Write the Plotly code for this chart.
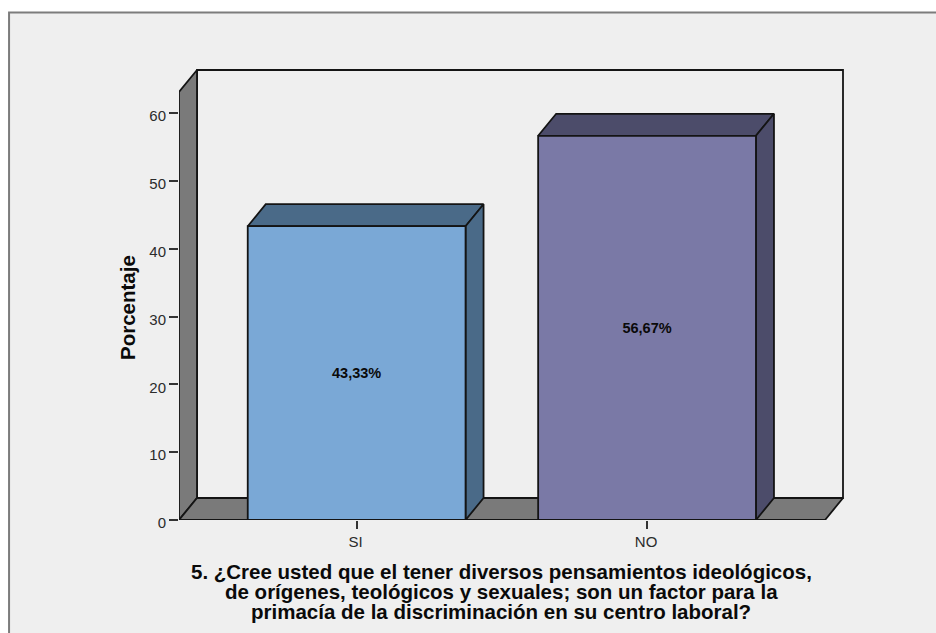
import plotly.graph_objects as go

categories = ["SI", "NO"]
percentages = [43.33, 56.67]
value_labels = ["43,33%", "56,67%"]
y_ticks = [0, 10, 20, 30, 40, 50, 60]
x_positions = [1, 2]
question_lines = [
    "5. ¿Cree usted que el tener diversos pensamientos ideológicos,",
    "de orígenes, teológicos y sexuales; son un factor para la",
    "primacía de la discriminación en su centro laboral?",
]
y_title = "Porcentaje"

W, H = 936, 633
BOX_R, BOX_T = 842.7, 70.0             # outer corner of the back wall, in pixels
PLOT_L, PLOT_R, PLOT_T, PLOT_B = 178.5, BOX_R + 3, BOX_T - 3, 520.0
PX_PER_PCT = 6.78
PX_PER_CAT = 290.5
CENTER_SI = 356.2

BAR_WIDTH = 0.75
DX = 18.0 / PX_PER_CAT      # depth offset along x, in axis units
DY = 22.0 / PX_PER_PCT      # depth offset along y, in axis units

x_min = 1 - (CENTER_SI - PLOT_L) / PX_PER_CAT
x_max = 1 + (PLOT_R - CENTER_SI) / PX_PER_CAT
y_max = (PLOT_B - PLOT_T) / PX_PER_PCT
box_x = 1 + (BOX_R - CENTER_SI) / PX_PER_CAT
box_y = (PLOT_B - BOX_T) / PX_PER_PCT

FRONT_COLORS = ["#7aa8d6", "#7a79a6"]
SIDE_COLORS = ["#4a6a88", "#4c4c6a"]
WALL = "#7a7a7a"
BG = "#efefef"
EDGE = "#141414"
EDGE_WIDTH = 1.8


def face(xs, ys, fill):
    return go.Scatter(
        x=xs, y=ys, mode="lines", fill="toself", fillcolor=fill,
        line=dict(color=EDGE, width=EDGE_WIDTH), hoverinfo="skip",
        showlegend=False, cliponaxis=False,
    )


fig = go.Figure()

# Back wall, side wall and floor of the box
fig.add_trace(face([x_min + DX, box_x, box_x, x_min + DX, x_min + DX],
                   [DY, DY, box_y, box_y, DY], BG))
fig.add_trace(face([x_min, x_min + DX, x_min + DX, x_min, x_min],
                   [0, DY, box_y, box_y - DY, 0], WALL))
fig.add_trace(face([x_min, box_x - DX, box_x, x_min + DX, x_min],
                   [0, 0, DY, DY, 0], WALL))

# Top and right faces of each bar
for xc, v, side in zip(x_positions, percentages, SIDE_COLORS):
    lo, hi = xc - BAR_WIDTH / 2, xc + BAR_WIDTH / 2
    fig.add_trace(face([lo, hi, hi + DX, lo + DX, lo],
                       [v, v, v + DY, v + DY, v], side))
    fig.add_trace(face([hi, hi + DX, hi + DX, hi, hi],
                       [0, DY, v + DY, v, 0], side))

# Front faces of the bars, on an overlaid subplot so they sit above the faces
fig.add_trace(go.Bar(
    x=x_positions, y=percentages, width=BAR_WIDTH, xaxis="x2", yaxis="y2",
    marker=dict(color=FRONT_COLORS, line=dict(color=EDGE, width=EDGE_WIDTH)),
    text=value_labels, textposition="inside", insidetextanchor="middle",
    textangle=0,
    textfont=dict(family="Liberation Sans", size=14.5, color="#0a0a0a", weight="bold"),
    hoverinfo="skip", showlegend=False,
))

# Panel with a grey outline running past the right and bottom edges
shapes = [dict(
    type="rect", xref="paper", yref="paper", layer="below",
    x0=(8.5 - PLOT_L) / (PLOT_R - PLOT_L), x1=(W + 20 - PLOT_L) / (PLOT_R - PLOT_L),
    y0=(PLOT_B - (H + 20)) / (PLOT_B - PLOT_T), y1=(PLOT_B - 12.5) / (PLOT_B - PLOT_T),
    fillcolor=BG, line=dict(color="#7c7c7c", width=2),
)]

annotations = [
    dict(text=line, xref="paper", yref="paper",
         x=(501 - PLOT_L) / (PLOT_R - PLOT_L),
         y=(PLOT_B - yc) / (PLOT_B - PLOT_T),
         xanchor="center", yanchor="middle", showarrow=False,
         font=dict(family="Liberation Sans", size=20.5, color="#0a0a0a", weight="bold"))
    for line, yc in zip(question_lines, [571.5, 591.5, 611.5])
]
annotations.append(dict(
    text=y_title, xref="paper", yref="paper",
    x=(127 - PLOT_L) / (PLOT_R - PLOT_L),
    y=(PLOT_B - 307.5) / (PLOT_B - PLOT_T),
    xanchor="center", yanchor="middle", textangle=-90, showarrow=False,
    font=dict(family="Liberation Sans", size=20.5, color="#0a0a0a", weight="bold"),
))

fig.update_layout(
    width=W, height=H, autosize=False,
    margin=dict(l=PLOT_L, r=W - PLOT_R, t=PLOT_T, b=H - PLOT_B, pad=0),
    paper_bgcolor="white", plot_bgcolor="rgba(0,0,0,0)",
    shapes=shapes, annotations=annotations, showlegend=False,
    font=dict(family="Liberation Sans", size=14, color="#2b2b2b"),
    xaxis=dict(
        range=[x_min, x_max], tickmode="array", tickvals=x_positions,
        ticktext=categories, ticks="outside", ticklen=8, tickwidth=1.5,
        tickcolor="#333333", showgrid=False, zeroline=False, showline=False,
        tickfont=dict(size=15, color="#2b2b2b"), ticklabelshift=-1,
    ),
    yaxis=dict(
        range=[0, y_max], tickmode="array", tickvals=y_ticks,
        ticks="outside", ticklen=9, tickwidth=1.5, tickcolor="#333333",
        showgrid=False, zeroline=False, showline=False,
        tickfont=dict(size=15, color="#2b2b2b"), ticklabelshift=3,
    ),
    xaxis2=dict(range=[x_min, x_max], overlaying="x", visible=False),
    yaxis2=dict(range=[0, y_max], overlaying="y", visible=False),
)

fig.write_html("out.html", config=dict(displayModeBar=False))
